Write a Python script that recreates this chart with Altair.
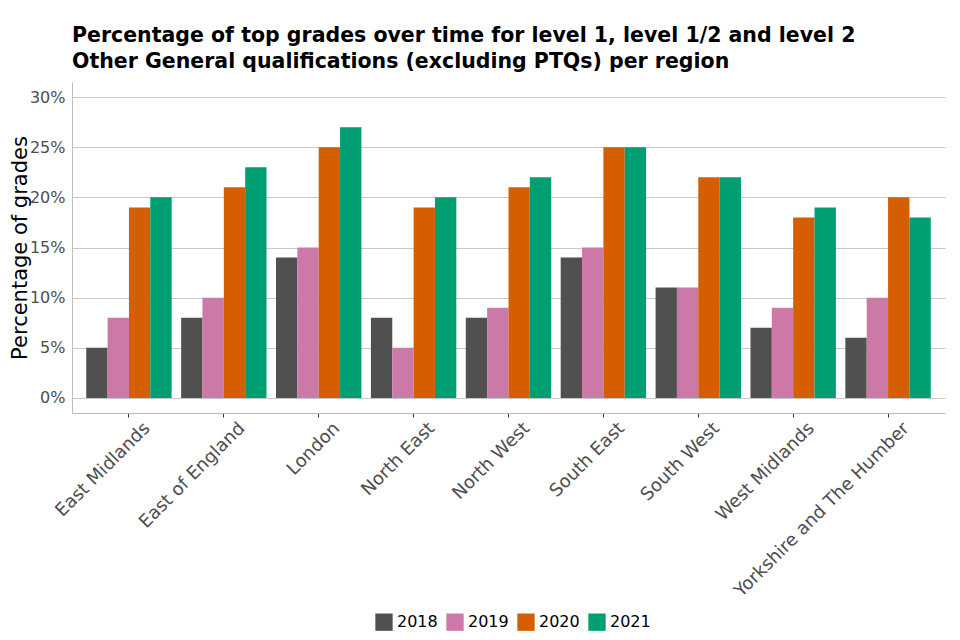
import altair as alt
import pandas as pd

regions = ["East Midlands", "East of England", "London", "North East", "North West",
           "South East", "South West", "West Midlands", "Yorkshire and The Humber"]
years = ["2018", "2019", "2020", "2021"]
v2018 = [5, 8, 14, 8, 8, 14, 11, 7, 6]
v2019 = [8, 10, 15, 5, 9, 15, 11, 9, 10]
v2020 = [19, 21, 25, 19, 21, 25, 22, 18, 20]
v2021 = [20, 23, 27, 20, 22, 25, 22, 19, 18]
colors = ["#505050", "#CC79A7", "#D55E00", "#009E73"]

rows = []
for y, vals in zip(years, [v2018, v2019, v2020, v2021]):
    for r, v in zip(regions, vals):
        rows.append({"region": r, "year": y, "pct": v})
df = pd.DataFrame(rows)

FONT = "DejaVu Sans"

chart = alt.Chart(df).mark_bar().encode(
    x=alt.X("region:N", sort=regions,
            scale=alt.Scale(paddingInner=0.1, paddingOuter=0.15),
            axis=alt.Axis(title=None, labelAngle=-45, labelAlign="right", labelBaseline="top",
                          labelFontSize=18, labelColor="#4d4d4d", labelFont=FONT,
                          ticks=True, tickSize=4, tickColor="#333333", labelPadding=2,
                          labelOffset=12,
                          domainColor="#bebebe", grid=False, labelLimit=400)),
    xOffset=alt.XOffset("year:N", sort=years, scale=alt.Scale(paddingInner=0, paddingOuter=0)),
    y=alt.Y("pct:Q", scale=alt.Scale(domain=[-1.5, 31.5], nice=False, zero=False),
            axis=alt.Axis(title="Percentage of grades", values=[0, 5, 10, 15, 20, 25, 30],
                          labelExpr="datum.value + '%'", labelFontSize=16, labelColor="#4d4d4d",
                          labelFont=FONT, ticks=False, labelPadding=7,
                          titleFont=FONT, titleFontSize=21, titleFontWeight="normal",
                          titleColor="black", titleX=-42, titleY=165.5, titleBaseline="bottom",
                          titleAngle=270, titleAlign="center",
                          domainColor="#bebebe", gridColor="#c8c8c8")),
    color=alt.Color("year:N", sort=years, scale=alt.Scale(domain=years, range=colors),
                    legend=alt.Legend(title=None, orient="none", direction="horizontal",
                                      legendX=303, legendY=531, symbolType="square",
                                      symbolSize=300, symbolStrokeWidth=0, labelFontSize=16,
                                      labelFont=FONT, labelColor="black", columnPadding=8,
                                      symbolOpacity=1)),
).properties(
    width=873, height=331,
    title=alt.TitleParams(
        ["Percentage of top grades over time for level 1, level 1/2 and level 2",
         "Other General qualifications (excluding PTQs) per region"],
        anchor="start", frame="group", font=FONT, fontSize=20.5, fontWeight="bold",
        color="black", offset=10, lineHeight=26),
    autosize=alt.AutoSizeParams(type="none"),
    padding={"left": 64, "top": 74, "right": 7, "bottom": 219},
).configure_view(stroke=None).configure_axis(gridColor="#c8c8c8")

chart.save("out.html", embed_options={"renderer": "svg", "actions": False})
